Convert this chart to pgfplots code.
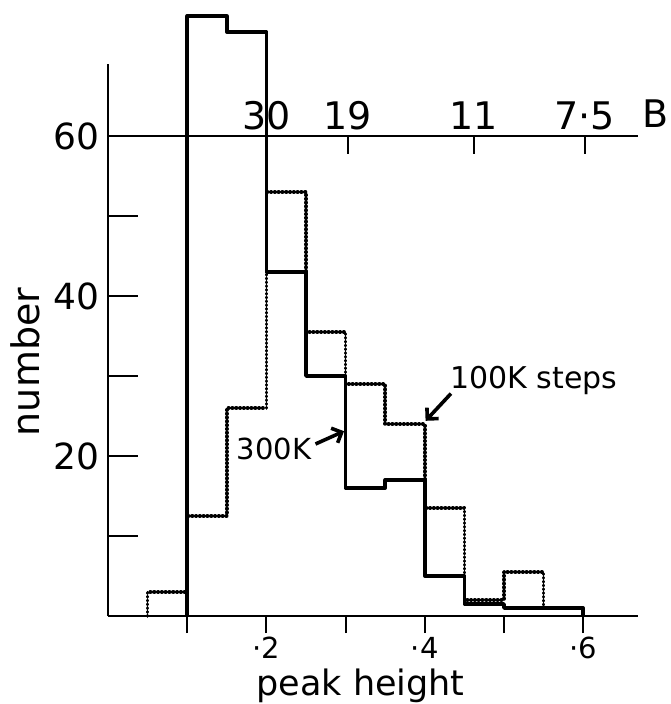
\documentclass[border=0pt]{standalone}
\usepackage{fontspec}
\setmainfont{DejaVu Sans}
\usepackage{pgfplots}
\pgfplotsset{compat=1.18}
\usetikzlibrary{arrows.meta}
\begin{document}
\begin{tikzpicture}
\begin{axis}[
  name=main,
  scale only axis,
  width=530pt, height=552pt,
  xmin=0, xmax=0.6692, ymin=0, ymax=69,
  clip=false,
  axis x line=bottom, axis y line=left,
  axis line style={-, line width=2pt, black},
  xtick={0.1,0.2,0.3,0.4,0.5,0.6},
  xticklabels={,·2,,·4,,·6},
  ytick=\empty,
  tick align=outside,
  major tick length=17pt,
  tick style={line width=2pt, black},
  xticklabel style={font=\fontsize{29}{30}\selectfont, inner sep=1pt, yshift=-3pt},
]
\coordinate (O) at (axis cs:0,0);
\addplot[const plot mark left, black, line width=3.6pt, line cap=round,
  dash pattern=on 0.5pt off 3.3pt, line join=round] coordinates {
  (0.05,0) (0.05,3) (0.1,12.5) (0.15,26) (0.2,53) (0.25,35.5) (0.3,29)
  (0.35,24) (0.4,13.5) (0.45,2) (0.5,5.5) (0.55,1) (0.6,1) (0.6,0)};
\addplot[const plot mark left, black, line width=3.5pt, line join=round] coordinates {
  (0.1,0) (0.1,75) (0.15,73) (0.2,43) (0.25,30) (0.3,16) (0.35,17)
  (0.4,5) (0.45,1.5) (0.5,1) (0.6,1) (0.6,0)};
\node[rotate=90, font=\fontsize{38}{40}\selectfont] at (axis cs:-0.1048,31.75) {number};
\node[anchor=base, inner sep=0pt, font=\fontsize{35}{38}\selectfont] at (axis cs:0.319,-9.9) {peak height};
\node[font=\fontsize{29}{30}\selectfont] at (axis cs:0.2096,20.9) {300K};
\node[anchor=west, inner sep=0pt, font=\fontsize{30}{32}\selectfont] at (axis cs:0.432,29.5) {100K steps};
\draw[line width=3.6pt, -{Straight Barb[length=8pt,width=16pt]}] (axis cs:0.262,21.5) -- (axis cs:0.298,23.1);
\draw[line width=3.6pt, -{Straight Barb[length=8pt,width=16pt]}] (axis cs:0.433,27.8) -- (axis cs:0.401,24.4);
\end{axis}
% y axis ticks and labels
\begin{axis}[
  at={(main.south west)}, anchor=south west,
  scale only axis,
  width=530pt, height=480pt,
  xmin=0, xmax=0.6692, ymin=0, ymax=60,
  axis x line=none, axis y line=left,
  axis line style={-, line width=2pt, black},
  ytick={10,20,30,40,50,60},
  yticklabels={,20,,40,,60},
  tick align=inside,
  major tick length=30pt,
  tick style={line width=2pt, black},
  yticklabel style={font=\fontsize{36}{38}\selectfont, xshift=-5pt},
]
\end{axis}
% top scale
\begin{axis}[
  at={(main.south west)}, anchor=south west,
  scale only axis,
  width=530pt, height=480pt,
  xmin=0, xmax=0.6692, ymin=0, ymax=60,
  clip=false,
  axis y line=none, axis x line=top,
  axis line style={-, line width=2pt, black},
  xtick={0.2,0.303,0.462,0.602},
  xticklabels={30,19,11,7·5},
  tick align=inside,
  major tick length=18pt,
  tick style={line width=2pt, black},
  xticklabel style={font=\fontsize{38}{40}\selectfont, inner sep=6pt},
]
\node[anchor=base west, inner sep=0pt, font=\fontsize{38}{40}\selectfont] at (axis cs:0.675,61) {B};
\end{axis}
\pgfresetboundingbox
\path ([shift={(-108pt,-88pt)}]O) rectangle ([shift={(563pt,616pt)}]O);
\end{tikzpicture}
\end{document}
